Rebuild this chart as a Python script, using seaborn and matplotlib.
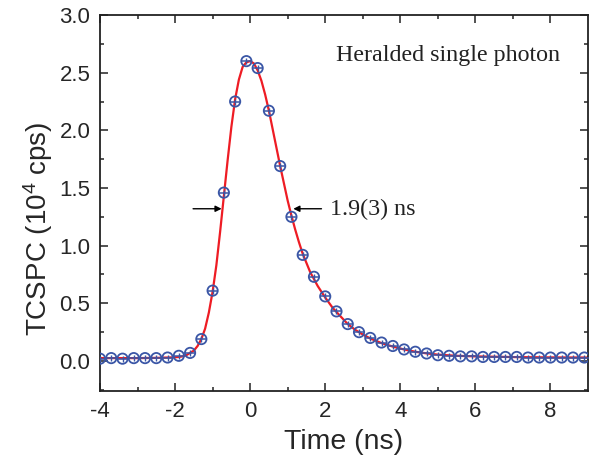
import matplotlib
matplotlib.use("Agg")
import matplotlib.pyplot as plt
import seaborn as sns
import numpy as np
import pandas as pd

# measured points (time in ns, counts in 10^4 cps)
time_ns = [-4.0, -3.7, -3.4, -3.1, -2.8, -2.5, -2.2, -1.9, -1.6, -1.3,
           -1.0, -0.7, -0.4, -0.1, 0.2, 0.5, 0.8, 1.1, 1.4, 1.7,
           2.0, 2.3, 2.6, 2.9, 3.2, 3.5, 3.8, 4.1, 4.4, 4.7,
           5.0, 5.3, 5.6, 5.9, 6.2, 6.5, 6.8, 7.1, 7.4, 7.7,
           8.0, 8.3, 8.6, 8.9]
counts = [0.020, 0.025, 0.020, 0.025, 0.025, 0.025, 0.030, 0.045, 0.070, 0.19,
          0.61, 1.46, 2.25, 2.60, 2.54, 2.17, 1.69, 1.25, 0.92, 0.73,
          0.56, 0.43, 0.32, 0.25, 0.20, 0.16, 0.13, 0.10, 0.08, 0.065,
          0.050, 0.045, 0.040, 0.040, 0.035, 0.035, 0.035, 0.035, 0.030, 0.030,
          0.030, 0.030, 0.030, 0.030]

# fitted curve
fit_t = [-4.0, -3.0, -2.5, -2.2, -2.0, -1.9, -1.8, -1.7, -1.6, -1.5, -1.4, -1.3,
         -1.2, -1.1, -1.0, -0.9, -0.8, -0.7, -0.6, -0.5, -0.4, -0.3, -0.2, -0.1,
         0.0, 0.1, 0.2, 0.3, 0.4, 0.5, 0.6, 0.7, 0.8, 0.9, 1.0, 1.1, 1.2, 1.3,
         1.4, 1.5, 1.6, 1.7, 1.8, 1.9, 2.0, 2.2, 2.4, 2.6, 2.8, 3.0, 3.2, 3.5,
         3.8, 4.1, 4.4, 4.7, 5.0, 5.5, 6.0, 7.0, 8.0, 9.0]
fit_y = [0.025, 0.025, 0.027, 0.030, 0.032, 0.035, 0.040, 0.050, 0.070, 0.090, 0.13, 0.19,
         0.28, 0.42, 0.60, 0.83, 1.12, 1.43, 1.74, 2.03, 2.27, 2.44, 2.55, 2.59,
         2.60, 2.58, 2.52, 2.43, 2.31, 2.17, 2.01, 1.85, 1.69, 1.54, 1.39, 1.26, 1.14, 1.03,
         0.93, 0.85, 0.77, 0.71, 0.65, 0.60, 0.55, 0.46, 0.39, 0.32, 0.27, 0.23, 0.195, 0.155,
         0.125, 0.10, 0.08, 0.066, 0.055, 0.045, 0.040, 0.034, 0.031, 0.030]

x_ticks = [-4, -2, 0, 2, 4, 6, 8]
y_ticks = [0.0, 0.5, 1.0, 1.5, 2.0, 2.5, 3.0]

sns.set_style("ticks")
plt.rcParams['font.family'] = ['Liberation Sans', 'DejaVu Sans']
plt.rcParams['mathtext.default'] = 'regular'

fig = plt.figure(figsize=(5.93, 4.66), dpi=100)
ax = fig.add_axes([0.1686, 0.161, 0.8230, 0.8068])

df_fit = pd.DataFrame({"t": fit_t, "y": fit_y})
df_pts = pd.DataFrame({"t": time_ns, "y": counts})

sns.lineplot(data=df_fit, x="t", y="y", ax=ax, color="#EE1C24", linewidth=1.6,
             sort=True, zorder=2)
blue = "#3A56A6"
sns.scatterplot(data=df_pts, x="t", y="y", ax=ax, marker="o", s=55,
                facecolors="none", edgecolor=blue, linewidth=1.3, zorder=3)
sns.scatterplot(data=df_pts, x="t", y="y", ax=ax, marker="_", s=55,
                color=blue, linewidth=1.1, zorder=3)
sns.scatterplot(data=df_pts, x="t", y="y", ax=ax, marker="|", s=18,
                color=blue, linewidth=1.0, zorder=3)

ax.set_xlim(-4, 9)
ax.set_ylim(-0.26, 3.0)
ax.set_xticks(x_ticks)
ax.set_yticks(y_ticks)
ax.set_xticklabels([str(v) for v in x_ticks])
ax.set_yticklabels([f"{v:.1f}" for v in y_ticks])
ax.set_xticks(np.arange(-3, 9, 2), minor=True)
ax.set_yticks(np.arange(-0.25, 3.0, 0.5), minor=True)

ax.tick_params(which="both", direction="in", top=True, right=True,
               labelsize=16, width=1.1, color="#222222")
ax.tick_params(which="major", length=6, pad=7)
ax.tick_params(which="minor", length=3)
for sp in ax.spines.values():
    sp.set_linewidth(1.3)
    sp.set_color("#222222")

ax.set_xlabel("Time (ns)", fontsize=20.5, labelpad=5)
ax.set_ylabel("TCSPC (10$^4$ cps)", fontsize=20)
ax.yaxis.set_label_coords(-0.092, 0.43)

serif = ['Liberation Serif', 'DejaVu Serif']
ax.text(2.29, 2.645, "Heralded single photon", fontsize=17.3, family=serif,
        ha="left", va="center", color="#222222")
ax.text(2.13, 1.31, "1.9(3) ns", fontsize=17.3, family=serif,
        ha="left", va="center", color="#222222")

arrow_kw = dict(arrowstyle="-|>", color="black", lw=1.0, mutation_scale=9,
                shrinkA=0, shrinkB=0)
ax.annotate("", xy=(-0.76, 1.32), xytext=(-1.52, 1.32), arrowprops=arrow_kw)
ax.annotate("", xy=(1.15, 1.32), xytext=(1.90, 1.32), arrowprops=arrow_kw)

fig.savefig("out.png", dpi=100)
